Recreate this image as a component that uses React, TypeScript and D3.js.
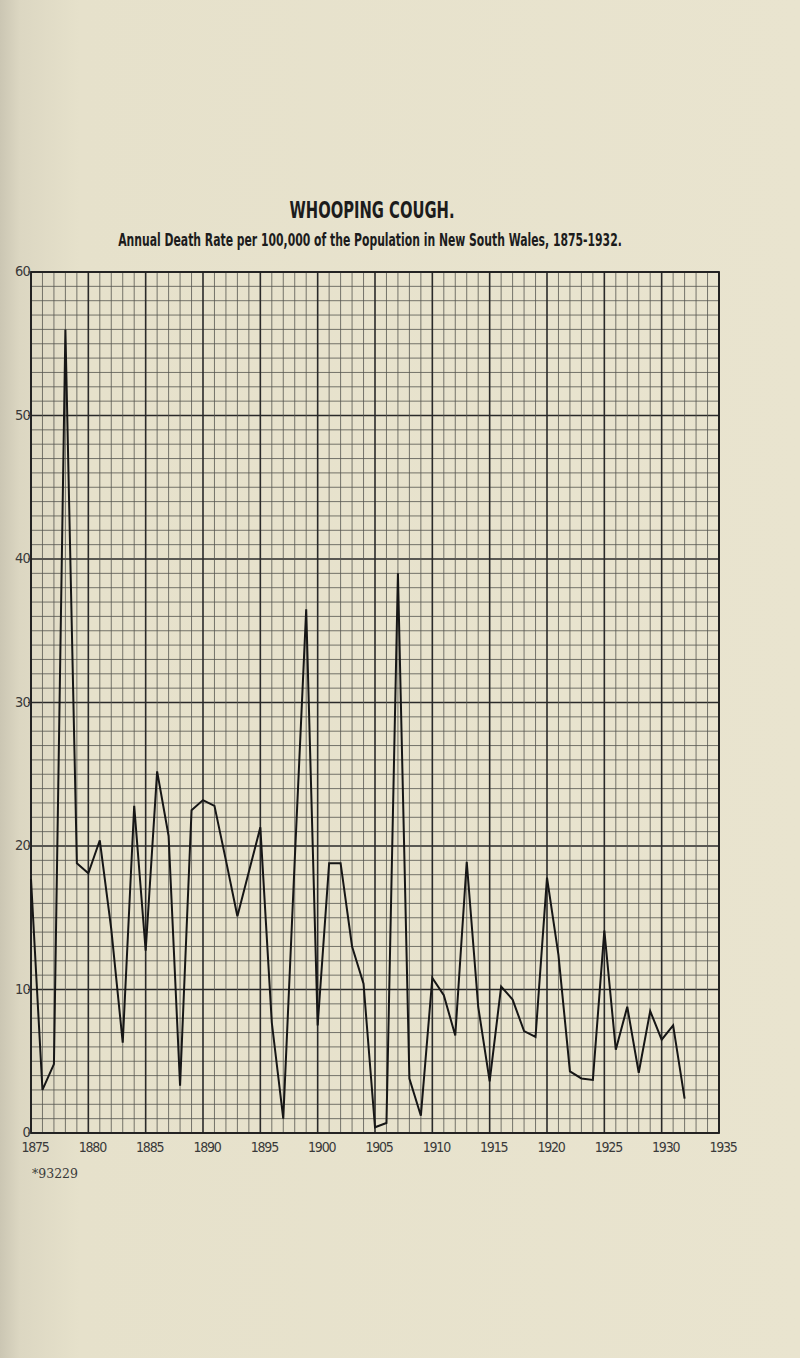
import React, { useLayoutEffect, useRef, useState } from "react";
import * as d3 from "d3";

const years = [
  1875, 1876, 1877, 1878, 1879, 1880, 1881, 1882, 1883, 1884,
  1885, 1886, 1887, 1888, 1889, 1890, 1891, 1892, 1893, 1894,
  1895, 1896, 1897, 1898, 1899, 1900, 1901, 1902, 1903, 1904,
  1905, 1906, 1907, 1908, 1909, 1910, 1911, 1912, 1913, 1914,
  1915, 1916, 1917, 1918, 1919, 1920, 1921, 1922, 1923, 1924,
  1925, 1926, 1927, 1928, 1929, 1930, 1931, 1932,
];
const rates = [
  17.7, 3.0, 4.8, 56.0, 18.8, 18.1, 20.4, 14.2, 6.3, 22.8,
  12.7, 25.2, 20.7, 3.3, 22.5, 23.2, 22.8, 19.0, 15.1, 18.2,
  21.3, 7.7, 1.0, 19.0, 36.5, 7.5, 18.8, 18.8, 13.0, 10.4,
  0.4, 0.7, 39.0, 3.8, 1.2, 10.8, 9.6, 6.8, 18.9, 8.8,
  3.6, 10.2, 9.3, 7.1, 6.7, 17.8, 12.4, 4.3, 3.8, 3.7,
  14.1, 5.8, 8.8, 4.2, 8.5, 6.5, 7.5, 2.4,
];
const xTicks = [1875, 1880, 1885, 1890, 1895, 1900, 1905, 1910, 1915, 1920, 1925, 1930, 1935];
const yTicks = [0, 10, 20, 30, 40, 50, 60];
const title = "WHOOPING COUGH.";
const subtitle = "Annual Death Rate per 100,000 of the Population in New South Wales, 1875-1932.";
const footnote = "*93229";

const W = 800;
const H = 1358;

const condensed = "'Liberation Sans Narrow', 'DejaVu Sans Condensed', 'Roboto', sans-serif";
const labelFont = "'DejaVu Sans Condensed', 'Liberation Sans Narrow', 'Roboto', sans-serif";

function FitText(props: {
  cx: number;
  y: number;
  width: number;
  fontSize: number;
  children: string;
  weight?: string;
}) {
  const ref = useRef<SVGTextElement>(null);
  const [sx, setSx] = useState(0.72);
  useLayoutEffect(() => {
    if (ref.current) {
      const w = ref.current.getComputedTextLength();
      if (w > 0) setSx(props.width / w);
    }
  }, [props.width, props.children, props.fontSize]);
  return (
    <g transform={`translate(${props.cx},${props.y}) scale(${sx},1)`}>
      <text
        ref={ref}
        x={0}
        y={0}
        textAnchor="middle"
        fontFamily={condensed}
        fontWeight={props.weight || "bold"}
        fontSize={props.fontSize}
        fill="#1c1c1c"
      >
        {props.children}
      </text>
    </g>
  );
}

export default function App() {
  const x = d3.scaleLinear().domain([1875, 1935]).range([31, 719]);
  const y = d3.scaleLinear().domain([0, 60]).range([1133, 272]);

  const vYears = d3.range(1875, 1936);
  const hVals = d3.range(0, 61);

  const line = d3
    .line<number>()
    .x((_, i) => x(years[i]))
    .y((d) => y(d));

  return (
    <svg
      width={W}
      height={H}
      viewBox={`0 0 ${W} ${H}`}
      style={{ position: "absolute", left: 0, top: 0, display: "block" }}
    >
      <defs>
        <linearGradient id="paper" x1="0" x2="1" y1="0" y2="0">
          <stop offset="0" stopColor="#cbc6b3" />
          <stop offset="0.025" stopColor="#dcd7c2" />
          <stop offset="0.1" stopColor="#e6e1cb" />
          <stop offset="1" stopColor="#e9e4cf" />
        </linearGradient>
      </defs>
      <rect x={0} y={0} width={W} height={H} fill="url(#paper)" />

      <FitText cx={372} y={218} width={165} fontSize={23}>
        {title}
      </FitText>
      <FitText cx={370} y={246} width={504} fontSize={18}>
        {subtitle}
      </FitText>

      {/* grid */}
      <g>
        {hVals.map((v) => (
          <line
            key={"h" + v}
            x1={x(1875)}
            x2={x(1935)}
            y1={y(v)}
            y2={y(v)}
            stroke={v % 10 === 0 ? "#2a2a2a" : "#55554f"}
            strokeWidth={v % 10 === 0 ? 1.6 : 0.8}
          />
        ))}
        {vYears.map((yr) => (
          <line
            key={"v" + yr}
            x1={x(yr)}
            x2={x(yr)}
            y1={y(0)}
            y2={y(60)}
            stroke={yr % 5 === 0 ? "#2a2a2a" : "#55554f"}
            strokeWidth={yr % 5 === 0 ? 1.6 : 0.8}
          />
        ))}
        <rect
          x={x(1875)}
          y={y(60)}
          width={x(1935) - x(1875)}
          height={y(0) - y(60)}
          fill="none"
          stroke="#1e1e1e"
          strokeWidth={1.8}
        />
      </g>

      {/* y axis labels */}
      <g fontFamily={labelFont} fontSize={14.5} fill="#3a3a3a">
        {yTicks.map((v) => (
          <g key={"yt" + v}>
            <line x1={x(1875) - 3} x2={x(1875)} y1={y(v)} y2={y(v)} stroke="#2a2a2a" strokeWidth={1} />
            <text x={x(1875) - 1} y={y(v) + 4} textAnchor="end" letterSpacing={-0.8}>
              {v}
            </text>
          </g>
        ))}
      </g>

      {/* x axis labels */}
      <g fontFamily={labelFont} fontSize={14} fill="#3a3a3a">
        {xTicks.map((yr) => (
          <text
            key={"xt" + yr}
            x={x(yr) + 4}
            y={y(0) + 19}
            textAnchor="middle"
            letterSpacing={-1.2}
          >
            {yr}
          </text>
        ))}
      </g>

      <path d={line(rates) || ""} fill="none" stroke="#161616" strokeWidth={2} strokeLinejoin="miter" />

      <text x={32} y={1178} fontFamily="'DejaVu Serif', serif" fontSize={12.5} fill="#3a3a3a">
        {footnote}
      </text>
    </svg>
  );
}
